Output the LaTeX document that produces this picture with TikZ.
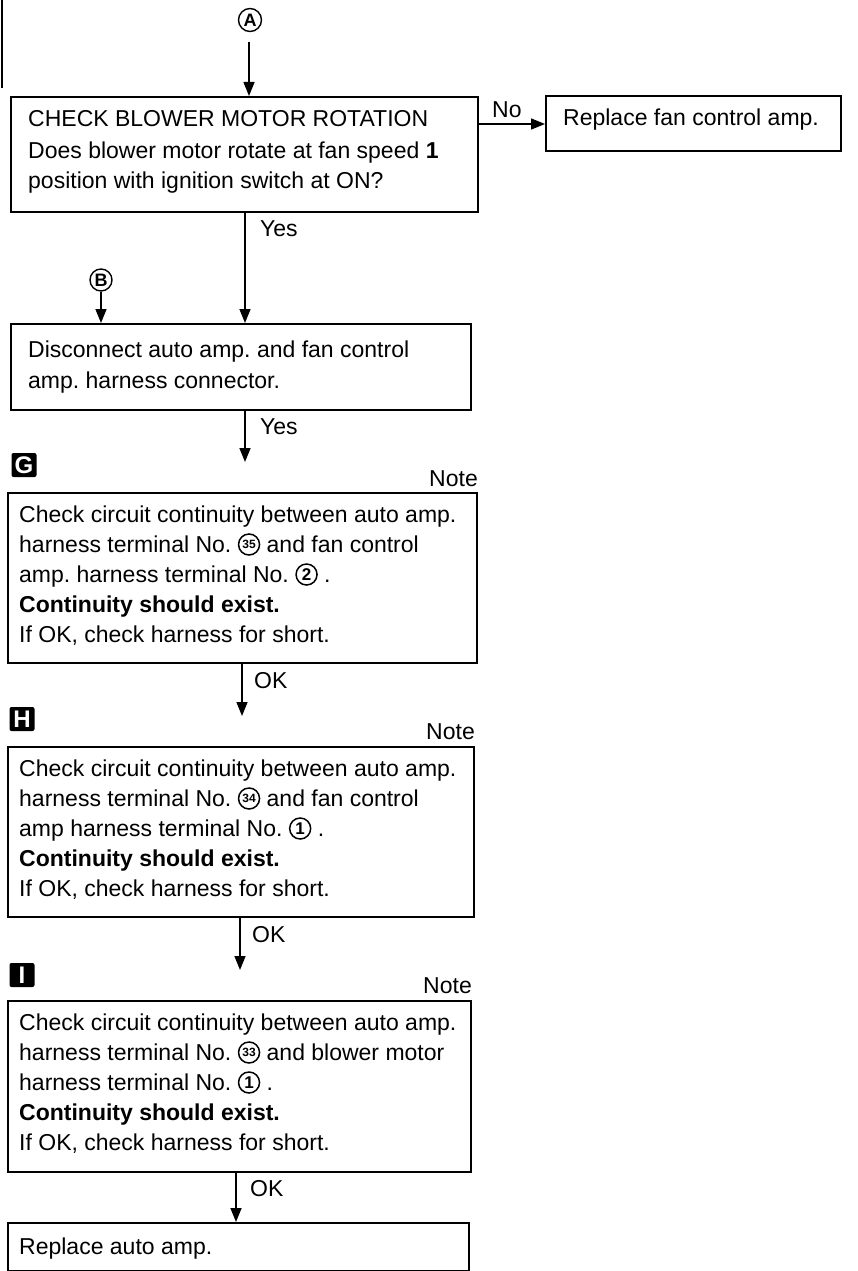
\documentclass[tikz,border=0pt]{standalone}
\usepackage{fontspec}
\setmainfont{Liberation Sans}
\usetikzlibrary{arrows.meta}
\frenchspacing
\newcommand{\cnum}[2]{\tikz[baseline={([yshift=-7.5pt]cn.center)}]\node[draw,circle,line width=1.5pt,inner sep=0pt,minimum size=21pt,font=\fontsize{#2}{#2}\selectfont\bfseries](cn){#1};}
\begin{document}
\begin{tikzpicture}[x=1pt,y=-1pt,
  box/.style={draw,line width=1.6pt,inner sep=0pt,anchor=north west},
  txt/.style={anchor=base west,inner sep=0pt,font=\fontsize{23}{28}\selectfont},
  lbl/.style={inner sep=0pt,font=\fontsize{23}{28}\selectfont},
  arr/.style={line width=1.5pt,-{Triangle[width=11pt,length=14pt]}},
  circ/.style={draw,circle,line width=1.4pt,inner sep=0pt,font=\fontsize{18}{18}\selectfont\bfseries},
  tag/.style={fill=black,rounded corners=2pt,text=white,inner sep=0pt,minimum width=25pt,minimum height=24pt,font=\fontsize{24}{24}\selectfont\bfseries}]
\useasboundingbox (0,0) rectangle (857,1271);
\draw[line width=1.5pt] (2,0) -- (2,88);

% boxes
\node[box,minimum width=467pt,minimum height=115pt] (b1) at (10,96) {};
\node[box,minimum width=295pt,minimum height=55pt] (rf) at (545,95) {};
\node[box,minimum width=460pt,minimum height=86pt] (b2) at (10,323) {};
\node[box,minimum width=469pt,minimum height=170pt] (b3) at (7,492) {};
\node[box,minimum width=466pt,minimum height=170pt] (b4) at (7,746) {};
\node[box,minimum width=463pt,minimum height=171pt] (b5) at (7,1000) {};
\node[box,minimum width=461pt,minimum height=48pt] (b6) at (7,1222) {};

% circled connectors
\node[circ,minimum size=23pt] (cA) at (250,20) {A};
\node[circ,minimum size=22pt] (cB) at (101,280) {B};

% tags
\node[tag] (tG) at (24,465) {G};
\node[tag] (tH) at (22,719) {H};
\node[tag] (tI) at (22,975) {I};

% texts
\node[txt] (t11) at (28,127) {CHECK BLOWER MOTOR ROTATION};
\node[txt] (t12) at (28,158) {Does blower motor rotate at fan speed \textbf{1}};
\node[txt] (t13) at (28,188) {position with ignition switch at ON?};
\node[txt] (tr) at (563,126) {Replace fan control amp.};
\node[txt] (t21) at (28,357) {Disconnect auto amp. and fan control};
\node[txt] (t22) at (28,388) {amp. harness connector.};

\node[txt] (t31) at (19,522) {Check circuit continuity between auto amp.};
\node[txt] (t32) at (19,552) {harness terminal No. \cnum{35}{12} and fan control};
\node[txt] (t33) at (19,582) {amp. harness terminal No. \cnum{2}{17} .};
\node[txt] (t34) at (19,612) {\textbf{Continuity should exist.}};
\node[txt] (t35) at (19,642) {If OK, check harness for short.};

\node[txt] (t41) at (19,776) {Check circuit continuity between auto amp.};
\node[txt] (t42) at (19,806) {harness terminal No. \cnum{34}{12} and fan control};
\node[txt] (t43) at (19,836) {amp harness terminal No. \cnum{1}{17} .};
\node[txt] (t44) at (19,866) {\textbf{Continuity should exist.}};
\node[txt] (t45) at (19,896) {If OK, check harness for short.};

\node[txt] (t51) at (19,1030) {Check circuit continuity between auto amp.};
\node[txt] (t52) at (19,1060) {harness terminal No. \cnum{33}{12} and blower motor};
\node[txt] (t53) at (19,1090) {harness terminal No. \cnum{1}{17} .};
\node[txt] (t54) at (19,1120) {\textbf{Continuity should exist.}};
\node[txt] (t55) at (19,1150) {If OK, check harness for short.};

\node[txt] (t61) at (19,1254) {Replace auto amp.};

% labels
\node[lbl,anchor=base west] (lNo) at (492,118) {No};
\node[lbl,anchor=base west] (lY1) at (260,236) {Yes};
\node[lbl,anchor=base west] (lY2) at (260,434) {Yes};
\node[lbl,anchor=base west] (lO1) at (254,688) {OK};
\node[lbl,anchor=base west] (lO2) at (252,942) {OK};
\node[lbl,anchor=base west] (lO3) at (250,1196) {OK};
\node[lbl,anchor=base east] (nG) at (478,486) {Note};
\node[lbl,anchor=base east] (nH) at (475,739) {Note};
\node[lbl,anchor=base east] (nI) at (472,993) {Note};

% connectors
\coordinate (a0) at (249,42);
\draw[arr] (a0) -- (a0 |- b1.north);
\coordinate (n0) at (477,124);
\draw[arr] (n0) -- (n0 -| rf.west);
\coordinate (y0) at (245,0);
\draw[arr] (b1.south -| y0) -- (b2.north -| y0);
\draw[arr] (cB.south) -- (cB.south |- b2.north);
\coordinate (e3) at (245,462);
\draw[arr] (b2.south -| e3) -- (e3);
\coordinate (e4) at (242,716);
\draw[arr] (b3.south -| e4) -- (e4);
\coordinate (e5) at (240,970);
\draw[arr] (b4.south -| e5) -- (e5);
\coordinate (y6) at (236,0);
\draw[arr] (b5.south -| y6) -- (b6.north -| y6);
\end{tikzpicture}
\end{document}
